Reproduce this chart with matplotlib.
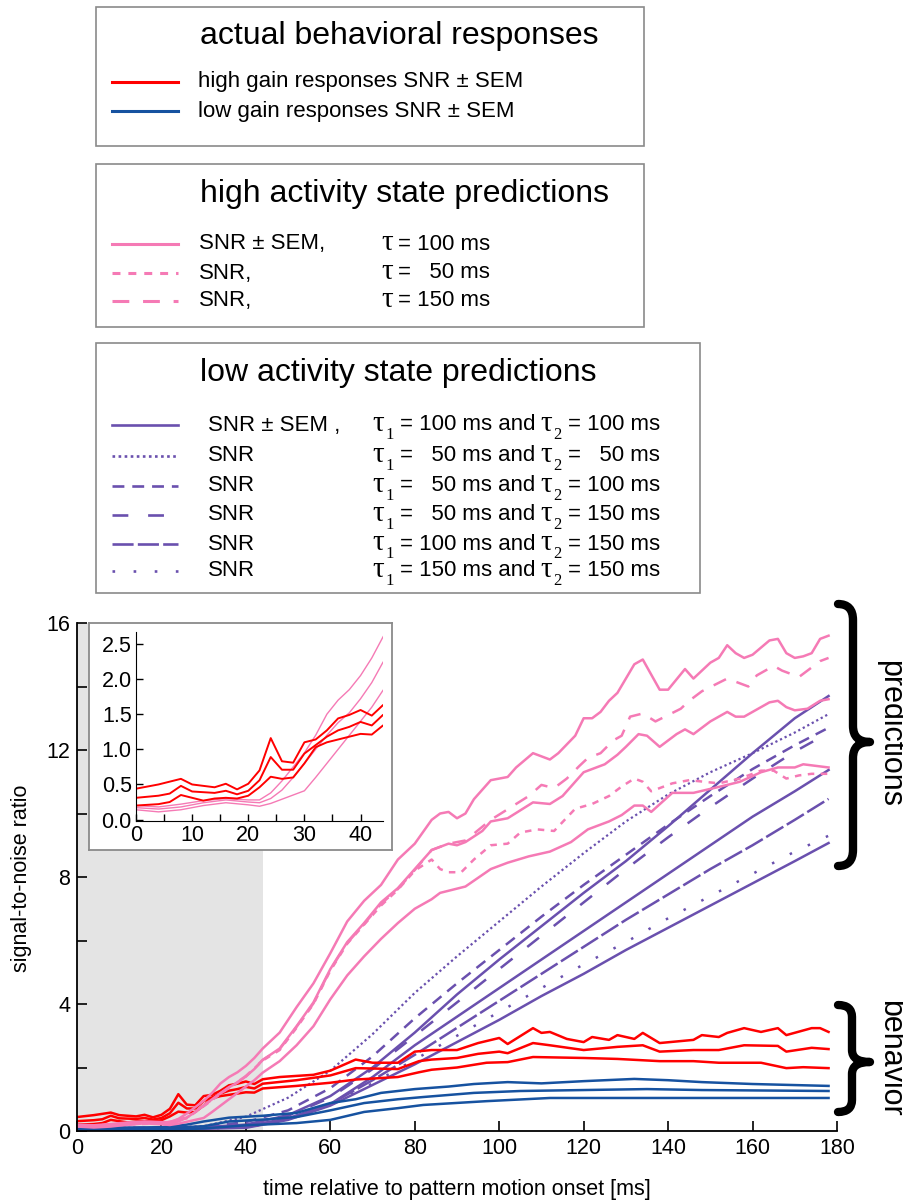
import matplotlib
matplotlib.use("Agg")
import matplotlib.pyplot as plt
from matplotlib.patches import Rectangle, PathPatch
from matplotlib.path import Path
from matplotlib.lines import Line2D

plt.rcParams['font.family'] = ['Liberation Sans', 'DejaVu Sans']

W, H = 904, 1203

# ---------------- data ----------------
# high activity state predictions (pink)
pink_hi_t = [0,4,8,12,16,20,22,24,26,28,30,32,34,36,38,40,42,44,48,52,56,60,64,68,72,76,80,84,86,88,90,92,94,98,102,104,108,112,114,118,120,122,124,126,128,132,134,138,140,144,146,150,152,154,156,158,160,164,166,168,170,172,174,176,178]
pink_hi_v = [0.20,0.18,0.22,0.27,0.30,0.28,0.28,0.38,0.55,0.75,0.95,1.20,1.50,1.70,1.85,2.05,2.30,2.60,3.10,3.90,4.65,5.60,6.60,7.25,7.75,8.55,9.05,9.80,10.00,10.05,9.85,10.00,10.45,11.05,11.15,11.45,11.90,11.70,11.90,12.45,13.00,13.00,13.20,13.55,13.80,14.70,14.85,13.90,13.90,14.55,14.25,14.75,14.90,15.30,15.05,14.90,15.00,15.45,15.50,15.05,14.90,14.95,15.05,15.50,15.60]

pink_mean_t = [0,4,8,12,16,20,22,24,26,28,30,32,34,36,38,40,42,44,48,52,56,60,64,68,72,76,80,84,88,90,92,96,98,102,105,108,112,115,120,122,125,128,130,133,135,138,142,144,146,150,154,156,158,160,164,166,168,170,173,176,178]
pink_mean_v = [0.17,0.15,0.18,0.24,0.28,0.25,0.24,0.30,0.42,0.60,0.80,1.00,1.20,1.38,1.52,1.72,1.95,2.24,2.60,3.30,4.05,5.10,5.95,6.55,7.20,7.65,8.25,8.85,9.05,9.00,9.10,9.45,9.75,9.85,10.10,10.35,10.30,10.55,11.30,11.40,11.55,11.85,12.10,12.50,12.45,12.10,12.50,12.65,12.50,12.90,13.20,13.05,13.05,13.20,13.50,13.55,13.35,13.25,13.30,13.55,13.60]

pink_lo_t = [0,4,8,12,16,20,22,24,26,28,30,32,34,36,38,40,42,44,48,52,56,60,64,68,72,76,80,84,86,92,98,102,107,112,117,121,126,129,132,134,136,141,146,154,157,162,166,170,172,178]
pink_lo_v = [0.14,0.11,0.14,0.20,0.24,0.21,0.19,0.23,0.29,0.35,0.41,0.60,0.80,1.00,1.20,1.40,1.60,1.84,2.20,2.70,3.30,4.15,4.90,5.50,6.05,6.55,7.00,7.30,7.50,7.70,8.25,8.45,8.65,8.80,9.10,9.50,9.75,9.95,10.25,10.25,10.05,10.65,10.65,10.90,11.00,11.30,11.45,11.45,11.55,11.45]

pink_t50_t = [0,10,20,26,30,36,40,44,48,52,56,60,64,68,72,76,80,84,86,88,91,94,98,102,105,109,113,118,122,126,129,132,134,136,141,145,152,157,162,165,168,171,174,178]
pink_t50_v = [0.15,0.20,0.24,0.40,0.78,1.36,1.72,2.22,2.55,3.25,4.00,5.05,5.90,6.50,7.10,7.60,8.20,8.55,8.25,8.15,8.15,8.55,9.00,9.05,9.40,9.50,9.45,10.15,10.30,10.55,10.85,11.10,11.00,10.70,10.95,11.05,10.95,11.10,11.35,11.35,11.10,11.20,11.25,11.25]

pink_t150_t = [0,10,20,26,30,36,40,44,48,52,56,60,64,68,72,76,80,84,88,92,98,104,107,110,113,116,119,121,124,127,129,131,134,137,143,145,148,154,156,159,161,165,167,171,176,178]
pink_t150_v = [0.16,0.21,0.25,0.42,0.80,1.37,1.73,2.24,2.58,3.28,4.02,5.08,5.92,6.52,7.15,7.62,8.22,8.85,9.05,9.15,9.80,10.30,10.55,10.90,10.80,11.10,11.50,11.75,11.90,12.30,12.45,13.05,13.15,12.90,13.30,13.55,13.85,14.25,14.15,14.00,14.35,14.65,14.50,14.30,14.80,14.90]

# actual behavioral responses: high gain (red)
red_hi_t = [0,4,8,10,14,16,18,20,22,24,26,28,30,32,34,36,38,40,42,44,48,56,60,66,70,76,80,84,90,95,100,102,108,110,112,116,120,122,126,128,132,134,138,146,148,152,154,158,162,166,168,174,176,178]
red_hi_v = [0.44,0.50,0.58,0.50,0.46,0.51,0.43,0.51,0.70,1.16,0.83,0.81,1.10,1.14,1.27,1.44,1.49,1.56,1.48,1.63,1.70,1.77,1.90,2.25,2.15,2.15,2.50,2.55,2.55,2.77,2.93,2.74,3.24,3.09,3.12,2.90,2.80,2.96,2.87,3.02,2.90,3.09,2.77,2.87,3.02,2.96,3.09,3.24,3.12,3.24,3.02,3.24,3.24,3.12]

red_mean_t = [0,4,6,8,10,14,16,18,20,22,24,26,28,30,32,34,36,38,40,42,44,52,60,66,76,81,84,90,95,100,102,108,112,120,128,134,138,146,152,158,166,168,174,178]
red_mean_v = [0.31,0.34,0.37,0.48,0.40,0.38,0.41,0.36,0.41,0.56,0.89,0.71,0.71,0.94,1.06,1.18,1.27,1.32,1.39,1.34,1.49,1.60,1.75,1.98,1.95,2.20,2.25,2.30,2.43,2.50,2.45,2.77,2.70,2.55,2.65,2.70,2.50,2.55,2.55,2.70,2.68,2.50,2.62,2.58]

red_lo_t = [0,4,6,8,10,12,14,16,18,20,22,24,26,28,30,32,34,36,38,40,42,44,52,60,66,76,81,84,90,97,102,108,120,128,138,146,152,162,168,172,178]
red_lo_v = [0.20,0.22,0.25,0.35,0.31,0.27,0.30,0.31,0.30,0.34,0.46,0.61,0.58,0.60,0.80,1.03,1.10,1.14,1.18,1.22,1.21,1.34,1.42,1.52,1.62,1.70,1.85,1.93,2.00,2.15,2.17,2.33,2.30,2.27,2.20,2.20,2.15,2.15,1.98,2.01,1.98]

# actual behavioral responses: low gain (blue)
blue_hi_t = [0,10,20,26,30,36,44,52,60,66,72,80,88,94,102,110,120,132,140,148,160,178]
blue_hi_v = [0.12,0.10,0.12,0.20,0.30,0.42,0.48,0.57,0.88,1.00,1.20,1.32,1.40,1.48,1.54,1.50,1.57,1.64,1.60,1.54,1.48,1.42]
blue_mean_t = [0,20,30,36,44,52,60,68,76,82,94,105,120,135,148,178]
blue_mean_v = [0.08,0.08,0.15,0.30,0.36,0.44,0.65,0.88,1.00,1.07,1.20,1.26,1.29,1.32,1.29,1.26]
blue_lo_t = [0,20,30,40,52,60,68,76,82,97,112,145,178]
blue_lo_v = [0.03,0.03,0.08,0.18,0.25,0.35,0.60,0.72,0.82,0.94,1.04,1.04,1.04]

# low activity state predictions (purple)
purple_t = [0,20,30,40,50,60,70,80,90,100,110,120,130,140,150,160,170,178]
purple_hi_v = [0.10,0.10,0.12,0.20,0.50,1.10,2.00,3.10,4.30,5.40,6.45,7.50,8.50,9.60,10.75,11.90,13.00,13.70]
purple_mean_v = [0.08,0.08,0.10,0.15,0.40,0.85,1.70,2.70,3.60,4.50,5.40,6.30,7.20,8.10,9.00,9.90,10.70,11.37]
purple_lo_v = [0.05,0.05,0.07,0.10,0.35,0.80,1.45,2.10,2.80,3.50,4.25,4.95,5.70,6.40,7.10,7.80,8.50,9.07]
purple_50_50_v = [0.10,0.10,0.15,0.45,1.05,1.90,3.05,4.35,5.50,6.60,7.70,8.75,9.75,10.60,11.30,11.90,12.55,13.13]
purple_50_100_v = [0.10,0.10,0.13,0.28,0.65,1.35,2.35,3.55,4.65,5.70,6.75,7.75,8.70,9.65,10.55,11.40,12.15,12.70]
purple_50_150_v = [0.08,0.08,0.11,0.18,0.48,1.05,1.95,3.00,4.05,5.10,6.15,7.20,8.25,9.25,10.20,11.10,11.95,12.54]
purple_100_150_v = [0.07,0.07,0.09,0.12,0.37,0.85,1.60,2.40,3.25,4.10,4.95,5.80,6.65,7.45,8.25,9.00,9.80,10.46]
purple_150_150_v = [0.06,0.06,0.08,0.11,0.36,0.82,1.50,2.25,3.00,3.75,4.50,5.25,5.95,6.70,7.40,8.10,8.80,9.30]

x_ticks = [0, 20, 40, 60, 80, 100, 120, 140, 160, 180]
y_ticks = [0, 2, 4, 6, 8, 10, 12, 14, 16]
y_ticklabels = ['0', '', '4', '', '8', '', '12', '', '16']
inset_x_major = [0, 10, 20, 30, 40]
inset_x_minor = [5, 15, 25, 35]
inset_y_ticks = [0.0, 0.5, 1.0, 1.5, 2.0, 2.5]

# ---------------- styles ----------------
RED = '#ff0000'
BLUE = '#1652a0'
PINK = '#f57ab5'
PURPLE = '#6a50ae'
GRAY_BG = '#e4e4e4'
BOX_EDGE = '#8a8a8a'

LS_SHORT = (0, (2.6, 2.6))
LS_LONG = (0, (5.5, 4.5))
LS_DOT_FINE = (0, (1.0, 1.3))
LS_DASH = (0, (4.5, 3.0))
LS_LONGGAP = (0, (6.0, 7.5))
LS_DASHDOT = (0, (8.0, 1.6))
LS_SPARSE = (0, (1.0, 7.0))

fig = plt.figure(figsize=(W / 100, H / 100), dpi=100)


def fx(x):
    return x / W


def fy(y):
    return 1 - y / H


def fig_rect(x0, y0, x1, y1):
    return [fx(x0), fy(y1), (x1 - x0) / W, (y1 - y0) / H]


# ---------------- main axes ----------------
ax = fig.add_axes(fig_rect(77, 623, 837, 1131))
ax.set_zorder(1)
ax.axvspan(0, 44, color=GRAY_BG, lw=0, zorder=0)

LW = 1.8
ax.plot(purple_t, purple_hi_v, color=PURPLE, lw=LW, ls='-')
ax.plot(purple_t, purple_mean_v, color=PURPLE, lw=LW, ls='-')
ax.plot(purple_t, purple_lo_v, color=PURPLE, lw=LW, ls='-')
ax.plot(purple_t, purple_50_50_v, color=PURPLE, lw=1.6, ls=LS_DOT_FINE)
ax.plot(purple_t, purple_50_100_v, color=PURPLE, lw=LW, ls=LS_DASH)
ax.plot(purple_t, purple_50_150_v, color=PURPLE, lw=LW, ls=LS_LONGGAP)
ax.plot(purple_t, purple_100_150_v, color=PURPLE, lw=LW, ls=LS_DASHDOT)
ax.plot(purple_t, purple_150_150_v, color=PURPLE, lw=LW, ls=LS_SPARSE)
ax.plot(blue_hi_t, blue_hi_v, color=BLUE, lw=LW)
ax.plot(blue_mean_t, blue_mean_v, color=BLUE, lw=LW)
ax.plot(blue_lo_t, blue_lo_v, color=BLUE, lw=LW)
ax.plot(red_hi_t, red_hi_v, color=RED, lw=LW)
ax.plot(red_mean_t, red_mean_v, color=RED, lw=LW)
ax.plot(red_lo_t, red_lo_v, color=RED, lw=LW)
ax.plot(pink_t50_t, pink_t50_v, color=PINK, lw=LW, ls=LS_SHORT)
ax.plot(pink_t150_t, pink_t150_v, color=PINK, lw=LW, ls=LS_LONG)
ax.plot(pink_hi_t, pink_hi_v, color=PINK, lw=LW)
ax.plot(pink_mean_t, pink_mean_v, color=PINK, lw=LW)
ax.plot(pink_lo_t, pink_lo_v, color=PINK, lw=LW)

ax.set_xlim(0, 180)
ax.set_ylim(0, 16)
ax.set_xticks(x_ticks)
ax.set_yticks(y_ticks)
ax.set_yticklabels(y_ticklabels)
ax.tick_params(direction='in', length=7, width=1.2, labelsize=15.5, pad=5)
for s in ('top', 'right'):
    ax.spines[s].set_visible(False)
for s in ('left', 'bottom'):
    ax.spines[s].set_linewidth(1.3)
ax.patch.set_alpha(0)

fig.text(fx(457), fy(1190), 'time relative to pattern motion onset [ms]',
         ha='center', va='center', fontsize=15.5)
fig.text(fx(22), fy(878), 'signal-to-noise ratio', rotation=90,
         ha='center', va='center', fontsize=15.5)

# ---------------- inset ----------------
frame = fig.add_axes(fig_rect(89, 623, 392, 850))
frame.set_zorder(2)
frame.set_xticks([])
frame.set_yticks([])
frame.set_facecolor('white')
for s in frame.spines.values():
    s.set_edgecolor(BOX_EDGE)
    s.set_linewidth(1.3)

iax = fig.add_axes(fig_rect(136, 632, 383, 821))
iax.set_zorder(3)
iax.patch.set_alpha(0)
ILW = 1.0
iax.plot(pink_hi_t, pink_hi_v, color=PINK, lw=ILW)
iax.plot(pink_mean_t, pink_mean_v, color=PINK, lw=ILW)
iax.plot(pink_lo_t, pink_lo_v, color=PINK, lw=ILW)
iax.plot(red_hi_t, red_hi_v, color=RED, lw=1.4)
iax.plot(red_mean_t, red_mean_v, color=RED, lw=1.4)
iax.plot(red_lo_t, red_lo_v, color=RED, lw=1.4)
iax.set_xlim(0, 44)
iax.set_ylim(-0.02, 2.67)
iax.set_xticks(inset_x_major)
iax.set_xticks(inset_x_minor, minor=True)
iax.set_yticks(inset_y_ticks)
iax.set_yticklabels([f'{v:.1f}' for v in inset_y_ticks])
iax.tick_params(which='both', direction='in', length=5, width=1.0, labelsize=15.5, pad=3)
for s in ('top', 'right'):
    iax.spines[s].set_visible(False)

# ---------------- braces ----------------
def brace(xl, xs, xt, ytop, ymid, ybot, r):
    pts = [(xl, ytop), (xs, ytop), (xs, ytop + r),
           (xs, ymid - r), (xs, ymid), (xt, ymid),
           (xs, ymid), (xs, ymid + r),
           (xs, ybot - r), (xs, ybot), (xl, ybot)]
    codes = [Path.MOVETO, Path.CURVE3, Path.CURVE3,
             Path.LINETO, Path.CURVE3, Path.CURVE3,
             Path.CURVE3, Path.CURVE3,
             Path.LINETO, Path.CURVE3, Path.CURVE3]
    verts = [(fx(x), fy(y)) for x, y in pts]
    patch = PathPatch(Path(verts, codes), transform=fig.transFigure,
                      fill=False, lw=6, edgecolor='black',
                      capstyle='round', joinstyle='round')
    fig.add_artist(patch)


brace(838, 853, 870, 604, 742, 866, 16)
brace(838, 852, 870, 1005, 1062, 1112, 12)
fig.text(fx(890), fy(733), 'predictions', rotation=-90, ha='center', va='center', fontsize=22)
fig.text(fx(890), fy(1058), 'behavior', rotation=-90, ha='center', va='center', fontsize=22)

# ---------------- legend boxes ----------------
def box(y0, y1, x1=644):
    fig.add_artist(Rectangle((fx(96), fy(y1)), (x1 - 96) / W, (y1 - y0) / H,
                             transform=fig.transFigure, facecolor='white',
                             edgecolor=BOX_EDGE, lw=1.2))


def sample(y, color, ls, lw=2.2):
    fig.add_artist(Line2D([fx(112), fx(178)], [fy(y), fy(y)], transform=fig.transFigure,
                          color=color, ls=ls, lw=lw))


SERIF = ['Liberation Serif', 'DejaVu Serif']
TITLE_FS = 23
ENTRY_FS = 16
TAU_FS = 21
SUB_FS = 12


def tau(x, y, sub=None):
    fig.text(fx(x), fy(y - 1), 'τ', fontsize=TAU_FS, family=SERIF, va='center')
    if sub is not None:
        fig.text(fx(x + 13), fy(y + 10), sub, fontsize=SUB_FS, family=SERIF, va='center')


box(7, 146)
fig.text(fx(200), fy(36), 'actual behavioral responses', fontsize=TITLE_FS, va='center')
sample(82, RED, '-')
sample(111, BLUE, '-')
fig.text(fx(198), fy(82), 'high gain responses SNR ± SEM', fontsize=ENTRY_FS, va='center')
fig.text(fx(198), fy(111), 'low gain responses SNR ± SEM', fontsize=ENTRY_FS, va='center')

box(164, 327)
fig.text(fx(200), fy(194), 'high activity state predictions', fontsize=TITLE_FS, va='center')
high_rows = [(244, '-', 'SNR ± SEM,', '= 100 ms'),
             (273, LS_SHORT, 'SNR,', '=   50 ms'),
             (301, LS_LONG, 'SNR,', '= 150 ms')]
for y, ls, a, b in high_rows:
    sample(y, PINK, ls)
    fig.text(fx(199), fy(y), a, fontsize=ENTRY_FS, va='center')
    tau(381, y)
    fig.text(fx(398), fy(y), b, fontsize=ENTRY_FS, va='center')

box(343, 593, x1=700)
fig.text(fx(200), fy(373), 'low activity state predictions', fontsize=TITLE_FS, va='center')
low_rows = [(425, '-', 'SNR ± SEM ,', '100', '100'),
            (456, LS_DOT_FINE, 'SNR', '  50', '  50'),
            (486, LS_DASH, 'SNR', '  50', '100'),
            (515, LS_LONGGAP, 'SNR', '  50', '150'),
            (544, LS_DASHDOT, 'SNR', '100', '150'),
            (571, LS_SPARSE, 'SNR', '150', '150')]
for y, ls, a, t1, t2 in low_rows:
    sample(y, PURPLE, ls, lw=1.9)
    fig.text(fx(208), fy(y), a, fontsize=ENTRY_FS, va='center')
    tau(372, y, '1')
    fig.text(fx(400), fy(y), '= ' + t1 + ' ms and', fontsize=ENTRY_FS, va='center')
    tau(540, y, '2')
    fig.text(fx(568), fy(y), '= ' + t2 + ' ms', fontsize=ENTRY_FS, va='center')

fig.savefig('out.png', dpi=100)
